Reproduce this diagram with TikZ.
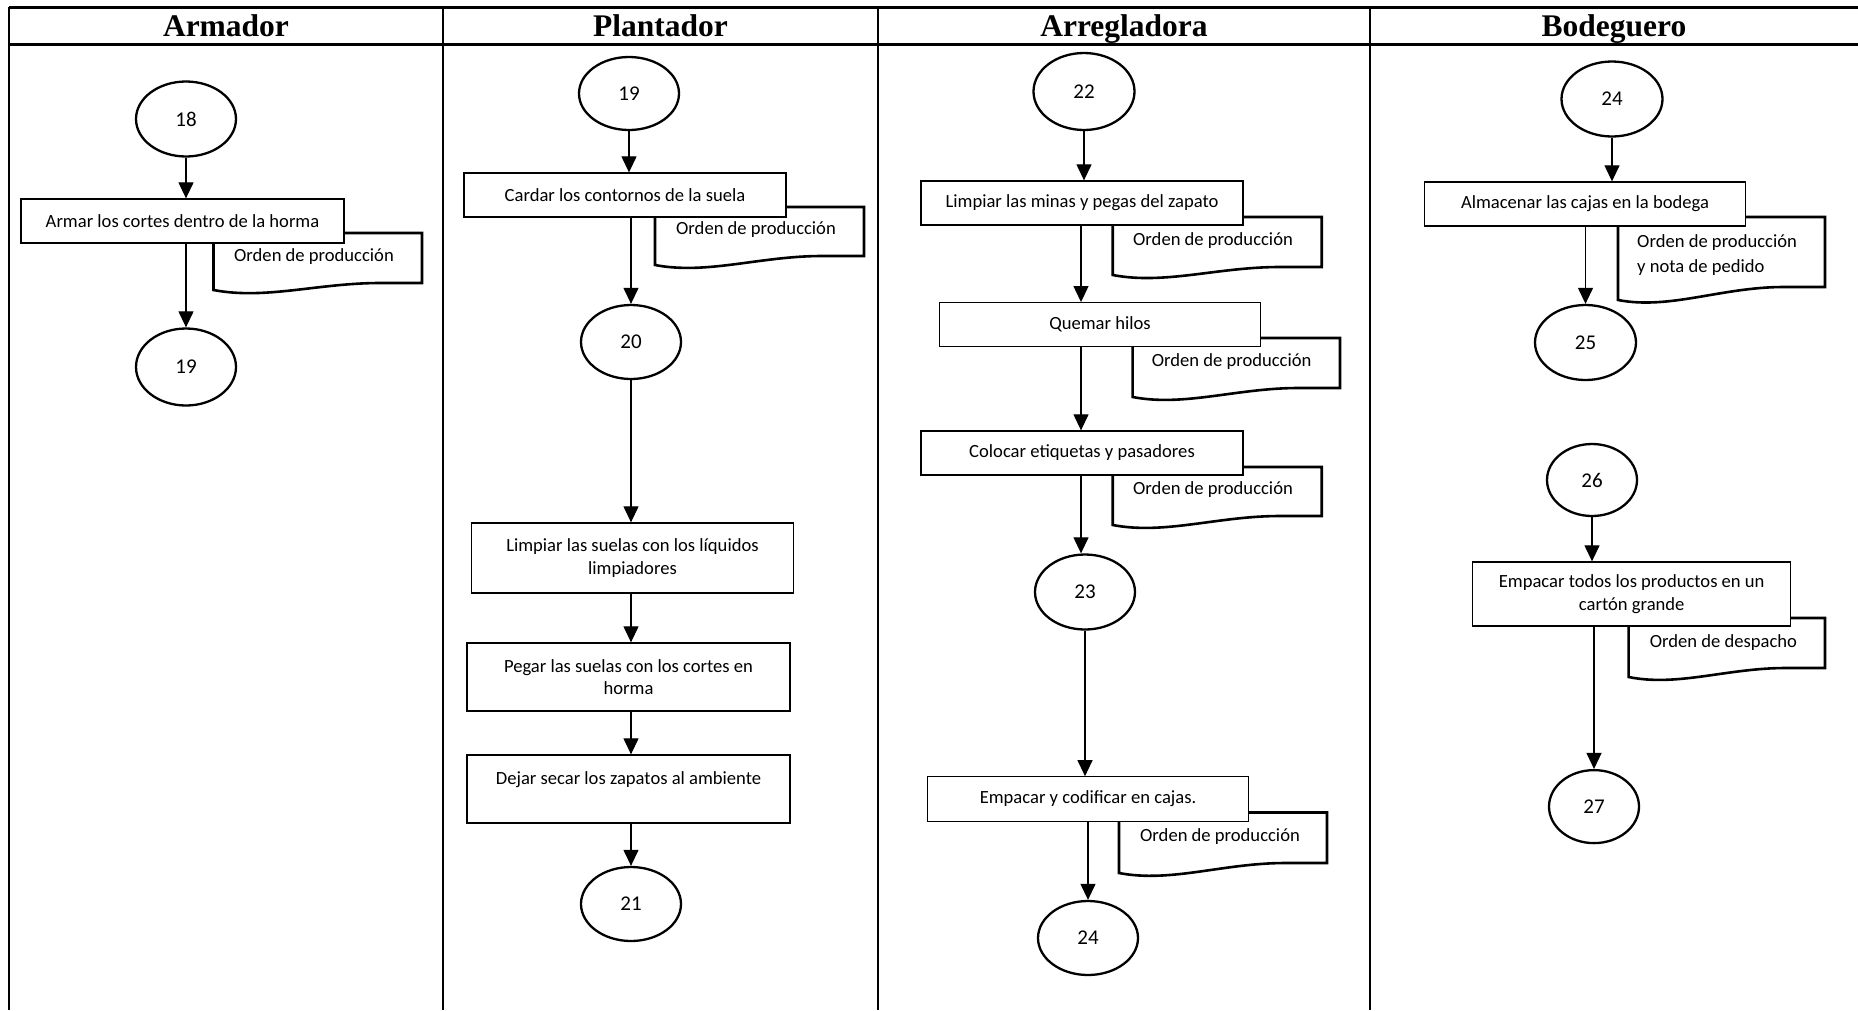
\documentclass[tikz,border=0pt]{standalone}
\usepackage{fontspec}
\setmainfont{Carlito}
\newfontfamily\tnr{Liberation Serif}
\usetikzlibrary{shapes.geometric,arrows.meta,calc}
\tikzset{
 box/.style={draw, line width=1.3pt, fill=white, rectangle, inner sep=0pt, align=center, font=\fontsize{18.6}{22.5}\selectfont},
 circ/.style={draw, line width=2.3pt, ellipse, inner sep=0pt, fill=white, font=\fontsize{21}{24}\selectfont},
 arr/.style={line width=1.2pt, -{Triangle[width=15pt,length=16pt]}},
 docline/.style={line width=2.6pt, fill=white, line join=miter},
 doctext/.style={font=\fontsize{18.6}{25}\selectfont, inner sep=0pt},
 head/.style={font=\tnr\bfseries\fontsize{31.5}{36}\selectfont, anchor=base, inner sep=0pt},
 frame/.style={line width=1.6pt},
 frameh/.style={line width=3pt},
}
\newcommand{\docsh}[5]{\draw[docline] (#1,#2) -- (#3,#2) -- (#3,#5) -- ($(#1,#5)!0.8!(#3,#5)$) .. controls ($(#1,#5)!0.5!(#3,#5)$) and ($(#1,#4)!0.25!(#3,#4)+(0,10)$) .. (#1,#4) -- cycle;}
\begin{document}
\begin{tikzpicture}[x=1pt,y=-1pt]
\useasboundingbox (0,0) rectangle (1858,1010);
% frame
\draw[frameh] (9,7) -- (1858,7);
\draw[frameh] (9,44) -- (1858,44);
\foreach \xx in {9,443,878,1370} \draw[frame] (\xx,7) -- (\xx,1010);
\node[head] (h1) at (226,36) {Armador};
\node[head] (h2) at (660.5,36) {Plantador};
\node[head] (h3) at (1124,36) {Arregladora};
\node[head] (h4) at (1614,36) {Bodeguero};

% documents
\docsh{213.5}{233}{422}{290}{283}
\docsh{655}{207}{864}{265}{256}
\docsh{1112.7}{217}{1321.7}{275}{267}
\docsh{1132.6}{338}{1340}{397}{388}
\docsh{1112.7}{467}{1321.7}{525}{516}
\docsh{1119}{812.5}{1327}{873}{863}
\docsh{1618}{217}{1825}{300}{287}
\docsh{1628.6}{618}{1825}{677}{668}

% Armador
\node[circ, minimum width=100pt, minimum height=75pt] (c18) at (186,119) {18};
\node[box, minimum width=323pt, minimum height=44pt] (b1) at (182.5,221) {Armar los cortes dentro de la horma};
\node[circ, minimum width=100pt, minimum height=77pt] (c19a) at (186,367) {19};
\node[doctext] (t1) at (314,257) {Orden de producción};
\draw[arr] (c18.south) -- (c18.south |- b1.north);
\draw[arr] (c19a.north |- b1.south) -- (c19a.north);

% Plantador
\node[circ, minimum width=100pt, minimum height=73pt] (c19b) at (629,93.5) {19};
\node[box, minimum width=322pt, minimum height=44pt] (b2) at (625,195) {Cardar los contornos de la suela};
\node[doctext] (t2) at (756,230) {Orden de producción};
\node[circ, minimum width=100pt, minimum height=74pt] (c20) at (631,342) {20};
\node[box, minimum width=322pt, minimum height=70pt] (b3) at (632.5,558) {Limpiar las suelas con los líquidos\\limpiadores};
\node[box, minimum width=323pt, minimum height=68pt] (b4) at (628.5,677) {Pegar las suelas con los cortes en\\horma};
\node[box, minimum width=323pt, minimum height=68pt] (b5) at (628.5,789) {Dejar secar los zapatos al ambiente\\~};
\node[circ, minimum width=100pt, minimum height=74pt] (c21) at (631,904) {21};
\draw[arr] (c19b.south) -- (c19b.south |- b2.north);
\draw[arr] (c20.north |- b2.south) -- (c20.north);
\draw[arr] (c20.south) -- (c20.south |- b3.north);
\draw[arr] (c20.south |- b3.south) -- (c20.south |- b4.north);
\draw[arr] (c20.south |- b4.south) -- (c20.south |- b5.north);
\draw[arr] (c20.south |- b5.south) -- (c21.north);

% Arregladora
\node[circ, minimum width=101pt, minimum height=77pt] (c22) at (1084,91.5) {22};
\node[box, minimum width=322pt, minimum height=44pt] (b6) at (1082,203) {Limpiar las minas y pegas del zapato};
\node[doctext] (t6) at (1213,241) {Orden de producción};
\node[box, minimum width=320.5pt, minimum height=44pt] (b7) at (1100,324.7) {Quemar hilos};
\node[doctext] (t7) at (1231.6,362) {Orden de producción};
\node[box, minimum width=322pt, minimum height=44pt] (b8) at (1082,453) {Colocar etiquetas y pasadores};
\node[doctext] (t8) at (1213,490) {Orden de producción};
\node[circ, minimum width=100pt, minimum height=75pt] (c23) at (1085,592) {23};
\node[box, minimum width=321.6pt, minimum height=44.4pt] (b9) at (1088,799) {Empacar y codificar en cajas.};
\node[doctext] (t9) at (1220,836.6) {Orden de producción};
\node[circ, minimum width=100pt, minimum height=74pt] (c24a) at (1088,938) {24};
\draw[arr] (c22.south) -- (c22.south |- b6.north);
\draw[arr] ([xshift=-3pt]c22.south |- b6.south) -- ([xshift=-3pt]c22.south |- b7.north);
\draw[arr] ([xshift=-3pt]c22.south |- b7.south) -- ([xshift=-3pt]c22.south |- b8.north);
\draw[arr] ([xshift=-3pt]c22.south |- b8.south) -- ([xshift=-3pt]c22.south |- c23.north);
\draw[arr] (c23.south) -- (c23.south |- b9.north);
\draw[arr] (c24a.north |- b9.south) -- (c24a.north);

% Bodeguero
\node[circ, minimum width=101pt, minimum height=75pt] (c24b) at (1612,99) {24};
\node[box, minimum width=321pt, minimum height=44pt] (b10) at (1585,204) {Almacenar las cajas en la bodega};
\node[doctext, align=left, anchor=west] (t10) at (1637,255) {Orden de producción\\y nota de pedido};
\node[circ, minimum width=101pt, minimum height=75pt] (c25) at (1585.5,342.5) {25};
\node[circ, minimum width=90pt, minimum height=72pt] (c26) at (1592,480) {26};
\node[box, minimum width=318pt, minimum height=64pt] (b11) at (1631.7,594) {Empacar todos los productos en un\\cartón grande};
\node[doctext] (t11) at (1723.4,643) {Orden de despacho};
\node[circ, minimum width=90pt, minimum height=73pt] (c27) at (1594,806.6) {27};
\draw[arr] (c24b.south) -- (c24b.south |- b10.north);
\draw[arr] (c25.north |- b10.south) -- (c25.north);
\draw[arr] (c26.south) -- (c26.south |- b11.north);
\draw[arr] (c27.north |- b11.south) -- (c27.north);
\end{tikzpicture}
\end{document}
